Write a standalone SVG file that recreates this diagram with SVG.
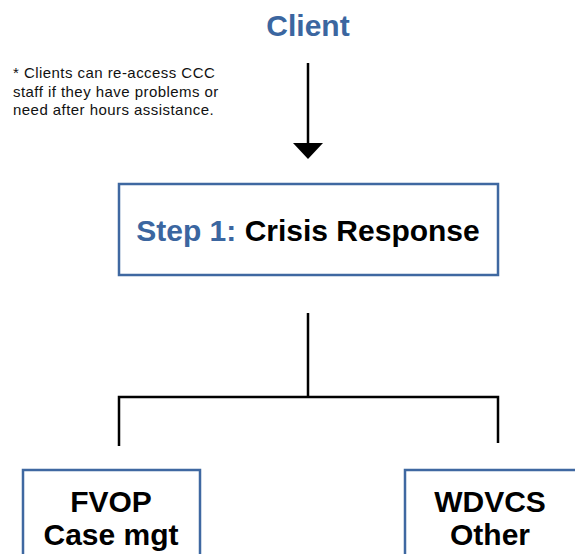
<svg xmlns="http://www.w3.org/2000/svg" width="575" height="554" viewBox="0 0 575 554">
<style>
.box{fill:#fff;stroke:#3f68a1;stroke-width:2.5}
.t{font-family:"Liberation Sans",Arial,sans-serif;font-weight:bold;text-anchor:middle}
.blue{fill:#3b66a0}
.k{fill:#000}
.note{font-family:"Liberation Sans",Arial,sans-serif;font-size:15px;letter-spacing:0.45px;fill:#111}
.ln{fill:none;stroke:#000;stroke-width:2.5}
</style>
<defs>
<marker id="ah" markerUnits="userSpaceOnUse" markerWidth="16" markerHeight="30" refX="0" refY="0" orient="auto" viewBox="0 -15 16 30"><path d="M0,-15 L0,15 L16,0 Z" fill="#000"/></marker>
</defs>
<rect width="575" height="554" fill="#fff"/>
<g id="client"><text class="t blue" x="308" y="36" font-size="30">Client</text></g>
<g id="note"><text class="note"><tspan x="13" y="78">* Clients can re-access CCC</tspan><tspan x="13" y="97">staff if they have problems or</tspan><tspan x="13" y="115">need after hours assistance.</tspan></text></g>
<g id="connectors">
<line class="ln" x1="308" y1="63" x2="308" y2="143" marker-end="url(#ah)"/>
<path class="ln" d="M308,313 V397 M119,446 V397 H498 V443"/>
</g>
<g id="step1"><rect class="box" x="119" y="184" width="379" height="91"/><text class="t" x="308" y="241" font-size="30"><tspan class="blue">Step 1:</tspan><tspan class="k"> Crisis Response</tspan></text></g>
<g id="fvop"><rect class="box" x="23" y="470" width="177" height="100"/><text class="t k" x="111" y="512" font-size="30">FVOP</text><text class="t k" x="111" y="545" font-size="30">Case mgt</text></g>
<g id="wdvcs"><rect class="box" x="405" y="470" width="190" height="100"/><text class="t k" x="490" y="512" font-size="30">WDVCS</text><text class="t k" x="490" y="545" font-size="30">Other</text></g>
</svg>
